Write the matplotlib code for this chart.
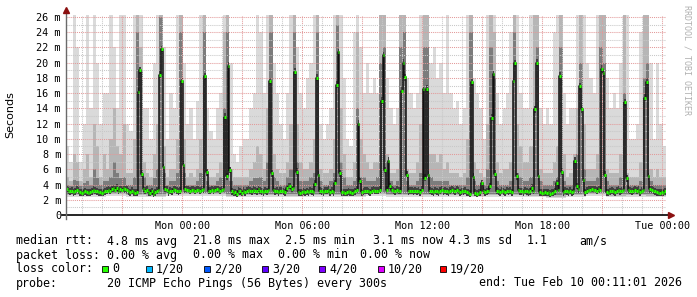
"""
SmokePing style latency graph: 30 hours of ICMP echo RTT, smoke + median.
"""
import numpy as np
import matplotlib

matplotlib.use("Agg")
import matplotlib.pyplot as plt
from matplotlib.patches import Rectangle

# ---- data -------------------------------------------------------------
# median rtt (ms), one value per 5 min step, one row per hour (Sun 18:11 -> Tue 00:11)
median_ms = [
    3.4, 3.2, 3.1, 3.2, 3.0, 3.1, 3.3, 3.2, 3.0, 2.9, 3.0, 3.1,
    3.0, 2.9, 3.0, 3.1, 3.3, 3.2, 3.1, 3.0, 3.0, 2.9, 3.0, 3.1,
    3.2, 3.3, 3.2, 3.4, 3.5, 3.3, 3.6, 3.2, 3.4, 3.3, 3.5, 3.4,
    3.3, 3.1, 3.0, 3.2, 3.0, 2.9, 3.0, 16.2, 19.0, 5.4, 3.4, 3.2,
    3.3, 3.0, 2.9, 3.1, 2.8, 3.0, 3.2, 3.3, 18.4, 21.8, 6.3, 3.4,
    3.3, 3.0, 3.2, 3.1, 3.4, 3.3, 3.2, 3.1, 3.2, 17.6, 6.6, 3.4,
    3.3, 3.3, 3.2, 3.3, 3.3, 3.2, 3.3, 3.3, 3.2, 3.3, 3.4, 18.2,
    5.6, 3.2, 3.2, 3.3, 3.2, 3.3, 3.4, 3.3, 3.2, 3.3, 3.4, 12.9,
    5.1, 19.6, 5.9, 3.1, 2.9, 3.0, 2.8, 3.2, 3.1, 2.9, 3.2, 3.0,
    3.2, 3.3, 3.2, 3.1, 3.3, 3.2, 3.1, 3.4, 3.2, 3.1, 3.0, 3.2,
    3.1, 3.3, 17.6, 5.5, 3.3, 3.1, 3.2, 3.0, 3.2, 3.2, 3.1, 3.0,
    3.5, 3.8, 3.8, 3.4, 3.6, 18.8, 5.7, 3.0, 2.9, 3.0, 3.1, 3.0,
    3.1, 3.0, 3.2, 3.1, 3.0, 4.1, 18.0, 5.3, 3.2, 3.1, 3.0, 3.2,
    3.2, 3.3, 3.0, 3.2, 3.0, 4.2, 17.1, 21.4, 5.5, 3.0, 3.0, 2.9,
    3.0, 3.1, 3.0, 2.9, 3.0, 3.1, 3.3, 12.0, 4.5, 3.0, 3.1, 3.2,
    3.2, 3.1, 3.0, 3.2, 3.3, 3.2, 3.2, 3.2, 3.3, 15.0, 21.0, 5.9,
    3.3, 7.1, 3.8, 3.3, 3.2, 3.1, 3.3, 3.2, 3.2, 16.3, 20.0, 18.1,
    5.3, 3.1, 3.2, 3.2, 3.1, 3.2, 3.1, 3.2, 3.0, 3.3, 16.5, 4.9,
    16.6, 5.3, 3.2, 3.1, 3.0, 3.2, 3.1, 3.0, 3.2, 3.3, 3.1, 3.2,
    3.1, 3.0, 3.2, 3.3, 3.2, 3.1, 3.3, 3.2, 3.0, 3.1, 3.1, 3.2,
    3.0, 2.9, 2.8, 17.4, 5.0, 2.9, 2.8, 2.9, 3.0, 4.2, 3.2, 3.0,
    3.1, 3.2, 3.8, 12.8, 18.5, 5.4, 3.2, 3.1, 3.0, 3.2, 3.1, 3.0,
    3.2, 3.1, 3.2, 3.0, 17.6, 19.9, 5.1, 3.3, 3.1, 3.1, 3.0, 3.2,
    3.1, 3.0, 3.1, 3.6, 3.2, 13.9, 20.0, 5.1, 3.0, 2.9, 2.9, 3.0,
    2.9, 3.0, 2.8, 2.9, 3.0, 3.1, 4.2, 3.3, 18.3, 5.7, 3.0, 3.2,
    3.1, 3.0, 3.2, 3.0, 3.1, 7.1, 3.8, 3.4, 16.9, 13.9, 4.6, 3.0,
    3.2, 3.3, 3.3, 3.4, 3.3, 3.3, 3.2, 3.4, 3.3, 19.2, 18.6, 5.3,
    3.0, 2.9, 3.1, 3.2, 3.1, 3.0, 3.2, 3.3, 3.1, 3.2, 3.3, 14.8,
    4.8, 3.3, 3.2, 3.1, 3.2, 3.3, 3.2, 3.3, 3.0, 3.2, 3.3, 15.4,
    17.5, 5.1, 3.4, 3.3, 3.2, 3.1, 3.0, 2.9, 2.9, 3.0, 2.9, 3.1,
]

# smoke envelope (ms), one value per 10 min, one row per hour
smoke_max = [
    9, 7, 27, 22, 7, 12,
    27, 14, 27, 20, 12, 16,
    16, 27, 22, 14, 27, 27,
    12, 11, 27, 27, 27, 14,
    14, 10, 20, 27, 27, 22,
    10, 16, 14, 27, 27, 20,
    12, 14, 10, 15, 27, 27,
    14, 11, 10, 14, 16, 27,
    27, 20, 8, 7, 9, 10,
    10, 14, 16, 27, 24, 16,
    27, 27, 20, 16, 12, 10,
    16, 27, 27, 22, 16, 14,
    18, 20, 27, 27, 12, 10,
    12, 14, 27, 27, 27, 18,
    10, 9, 24, 27, 22, 16,
    20, 16, 18, 16, 27, 27,
    18, 14, 12, 14, 27, 27,
    18, 16, 14, 16, 27, 27,
    27, 20, 22, 18, 20, 16,
    27, 16, 14, 15, 12, 14,
    27, 27, 18, 16, 14, 10,
    27, 27, 27, 16, 12, 14,
    16, 24, 27, 27, 16, 14,
    14, 27, 27, 27, 14, 12,
    14, 12, 24, 27, 27, 16,
    12, 14, 14, 27, 27, 27,
    20, 18, 16, 27, 27, 27,
    18, 14, 16, 14, 20, 27,
    27, 10, 10, 12, 24, 27,
    27, 20, 10, 20, 12, 9,
]
smoke_hi = [
    5, 4.5, 8, 7, 4.5, 6,
    8, 5, 12, 9, 5, 8,
    6, 10, 14, 9, 8, 12,
    5.5, 5.5, 10, 27, 22, 7,
    5.5, 5, 8, 12, 27, 9,
    5, 6, 6, 10, 27, 10,
    5, 5.5, 5, 6, 10, 27,
    5.5, 5, 5, 5.5, 7, 24,
    27, 6, 5, 5, 5, 5,
    5, 6, 7, 9, 8, 6,
    14, 27, 8, 6, 5.5, 5.5,
    7, 12, 27, 12, 7, 6,
    6, 7, 10, 27, 6, 5.5,
    5.5, 6, 10, 27, 14, 8,
    5, 5, 7, 24, 10, 8,
    7, 6, 7, 7, 27, 27,
    8, 5.5, 5.5, 6, 27, 27,
    6, 5.5, 5.5, 7, 12, 27,
    27, 8, 8, 7, 8, 6,
    7, 5.5, 5.5, 5.5, 5, 5.5,
    10, 27, 7, 6, 5.5, 5,
    12, 27, 24, 7, 5.5, 6,
    6, 7, 27, 12, 9, 7,
    7, 9, 27, 27, 6, 5.5,
    5.5, 5.5, 7, 9, 27, 8,
    5, 5.5, 8, 14, 27, 12,
    6, 6, 6, 8, 27, 27,
    6, 5.5, 5.5, 5.5, 8, 27,
    5.5, 5, 5, 5, 7, 27,
    27, 6, 5, 6, 5, 5,
]
smoke_dark = [
    4, 3.8, 4.6, 4.4, 3.8, 4.2,
    4.5, 4, 6, 4.8, 4, 4.5,
    4.5, 5, 7, 5.5, 4.8, 5,
    4, 4, 5, 24, 19, 5,
    4, 4, 4.8, 6, 26, 5.5,
    4, 4.5, 4.5, 5.5, 24, 5.5,
    4, 4, 4, 4.5, 5.5, 24,
    4.5, 4, 4, 4.5, 5, 14,
    24, 4.5, 4, 4, 4, 4,
    4, 4.5, 4.8, 4.8, 5, 4.5,
    7, 24, 5, 4.5, 4, 4,
    5, 6, 24, 7, 4.5, 4.5,
    4.5, 5, 5.5, 24, 4.5, 4,
    4, 4.5, 5.5, 25, 7, 5,
    4, 4, 4.5, 14, 5, 5,
    4.5, 4.5, 4.5, 5, 20, 22,
    7, 4.5, 4, 4.5, 22, 24,
    4.5, 4, 4, 4.5, 5.5, 22,
    22, 5, 4.5, 4.5, 4.5, 4.5,
    4.5, 4, 4, 4, 4, 4,
    5, 24, 4.5, 4, 4, 4,
    6, 22, 18, 4.5, 4, 4,
    4, 4.5, 24, 5.5, 5, 4.5,
    4.5, 5, 14, 22, 4.5, 4,
    4, 4, 4.5, 5, 22, 4.5,
    4, 4, 7, 8, 20, 6,
    4.5, 4.5, 4.5, 5, 22, 20,
    4.5, 4, 4, 4, 5, 16,
    4, 4, 4, 4, 4.5, 18,
    20, 4.5, 4, 4, 4, 4,
]
# lowest ping per hour (ms)
smoke_floor = [
    2.4, 2.4, 2.5, 2.4, 2.3, 2.5, 2.5, 2.5, 2.3, 2.4,
    2.4, 2.3, 2.4, 2.4, 2.3, 2.5, 2.4, 2.4, 2.4, 2.4,
    2.3, 2.4, 2.4, 2.3, 2.2, 2.4, 2.5, 2.3, 2.4, 2.3,
]

x_ticks = [0, 6, 12, 18, 24]
x_labels = ["Mon 00:00", "Mon 06:00", "Mon 12:00", "Mon 18:00", "Tue 00:00"]

loss_labels = ["0", "1/20", "2/20", "3/20", "4/20", "10/20", "19/20"]
loss_colors = ["#26ff00", "#00b8ff", "#0059ff", "#5e00ff", "#7e00ff", "#dd00ff", "#ff0000"]

rtt_stats = [("median rtt:", 16), ("4.8 ms avg", 107), ("21.8 ms max", 193), ("2.5 ms min", 285),
             ("3.1 ms now", 373), ("4.3 ms sd", 449), ("1.1", 527), ("am/s", 579)]
loss_stats = [("packet loss:", 16), ("0.00 % avg", 107), ("0.00 % max", 193),
              ("0.00 % min", 278), ("0.00 % now", 360)]

# ---- figure -------------------------------------------------------------
W, H = 697, 297
MONO = "DejaVu Sans Mono"
fig = plt.figure(figsize=(W / 100, H / 100), dpi=100)
ax = fig.add_axes([66 / W, 82 / H, 600 / W, 200 / H])

t_start = -(5 + 48 / 60 + 59 / 3600)  # Sun 18:11:01, hours from Mon 00:00
step = 5 / 60
t_med = t_start + np.arange(len(median_ms)) * step
t_smoke = t_start + np.arange(len(smoke_max)) * 2 * step
floor = np.repeat(smoke_floor, 6)
med = np.array(median_ms)

ax.bar(t_smoke, np.array(smoke_max) - floor, bottom=floor, width=2 * step,
       align="edge", color="#dadada", linewidth=0, zorder=1)
ax.bar(t_smoke, np.array(smoke_hi) - floor - 0.2, bottom=floor + 0.2, width=2 * step,
       align="edge", color="#b6b6b6", linewidth=0, zorder=1.1)
ax.bar(t_smoke, np.array(smoke_dark) - floor - 0.4, bottom=floor + 0.4, width=2 * step,
       align="edge", color="#7c7c7c", linewidth=0, zorder=1.2)
ax.bar(t_med, np.full(len(med), 0.9), bottom=med - 0.45, width=step,
       align="edge", color="#404040", linewidth=0, zorder=1.3)

# grid on top of the smoke, rrdtool style
for h in range(-5, 25):
    major = h % 3 == 0
    ax.axvline(h, color="#e39a9a" if major else "#c8c8c8", lw=0.75,
               ls=(0, (1, 1)), zorder=2)
for v in range(1, 27):
    major = v % 2 == 0
    ax.axhline(v, color="#e39a9a" if major else "#c8c8c8", lw=0.75,
               ls=(0, (1, 1)), zorder=2)

# median: black connectors + green (0 loss) segments
ax.step(np.append(t_med, t_med[-1] + step), np.append(med, med[-1]), where="post",
        color="#111111", lw=1.1, zorder=3)
ax.hlines(med, t_med, t_med + step, color=loss_colors[0], lw=2.2, zorder=4)

ax.set_xlim(t_start, t_start + 30)
ax.set_ylim(0, 26.26)
for s in ax.spines.values():
    s.set_visible(False)
ax.set_xticks(x_ticks)
ax.set_xticklabels(x_labels, family=MONO, fontsize=7.3)
ax.set_yticks(range(0, 27, 2))
ax.set_yticklabels(["0"] + ["%d m" % v for v in range(2, 27, 2)], family=MONO, fontsize=7.3)
ax.tick_params(axis="x", length=0, pad=4.0)
ax.tick_params(axis="y", length=0, pad=3.6)

# axes + arrows
ax.plot([t_start - 0.2, t_start + 30.15], [0, 0], color="black", lw=1.2, clip_on=False, zorder=5)
ax.plot([t_start, t_start], [-0.5, 26.7], color="#6a6a6a", lw=1.0, clip_on=False, zorder=5)
ax.plot([t_start], [26.9], marker="^", ms=4.5, color="#8b1010", clip_on=False, zorder=6)
ax.plot([t_start + 30.25], [0], marker=">", ms=4.5, color="#8b1010", clip_on=False, zorder=6)

fig.text(10 / W, 1 - 115 / H, "Seconds", rotation=90, ha="center", va="center",
         fontsize=8, family="DejaVu Sans")
fig.text(687 / W, 1 - 60 / H, "RRDTOOL / TOBI OETIKER", rotation=270, ha="center",
         va="center", fontsize=6, family=MONO, color="#b0b0b0")


# legend block
def px_text(x, y, s):
    fig.text(x / W, 1 - y / H, s, ha="left", va="center", fontsize=8.4, family=MONO)


for s, x in rtt_stats:
    px_text(x, 241, s)
for s, x in loss_stats:
    px_text(x, 255, s)
px_text(16, 269, "loss color:")
label_x = [112, 156, 214, 272, 329, 388, 450]
for lx, lab, col in zip(label_x, loss_labels, loss_colors):
    fig.add_artist(Rectangle(((lx - 10) / W, 1 - 272 / H), 6 / W, 6 / H,
                             facecolor=col, edgecolor="black", lw=0.6))
    px_text(lx, 269, lab)
px_text(16, 283, "probe:")
px_text(107, 283, "20 ICMP Echo Pings (56 Bytes) every 300s")
px_text(479, 283, "end: Tue Feb 10 00:11:01 2026")

fig.savefig("out.png", dpi=100)
